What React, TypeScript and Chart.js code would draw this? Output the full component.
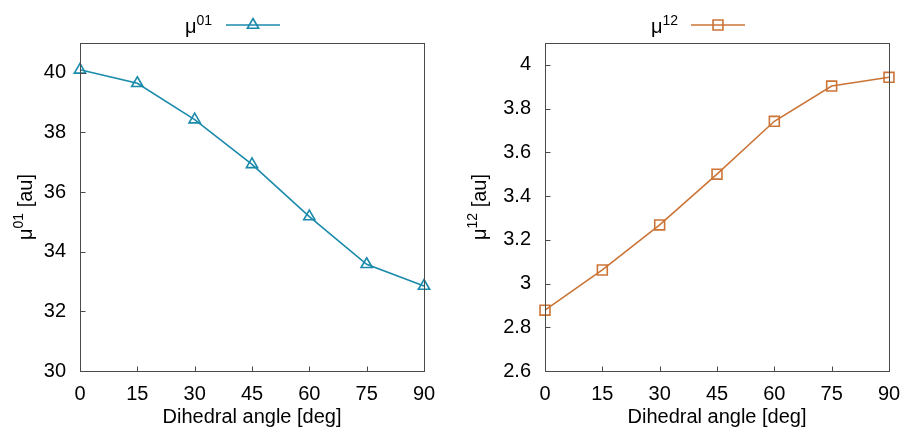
import React, { useEffect, useRef } from 'react';
import { Chart, registerables } from 'chart.js';
import { drawPoint } from 'chart.js/helpers';
Chart.register(...registerables);

const angles = [0, 15, 30, 45, 60, 75, 90];
const mu01 = [40.1, 39.65, 38.43, 36.93, 35.18, 33.58, 32.85];
const mu12 = [2.878, 3.062, 3.268, 3.5, 3.742, 3.903, 3.943];
const xTicks = [0, 15, 30, 45, 60, 75, 90];
const yTicksLeft = [30, 32, 34, 36, 38, 40];
const yTicksRight = [2.6, 2.8, 3.0, 3.2, 3.4, 3.6, 3.8, 4.0];
const xTitle = 'Dihedral angle [deg]';

const FONT = '"Liberation Sans", Arial, sans-serif';

type Cfg = {
  data: number[];
  color: string;
  pointStyle: 'triangle' | 'rect';
  radius: number;
  yMin: number;
  yMax: number;
  yTicks: number[];
  width: number;
  axisW: number;
  rightPad: number;
  sup: string;
  yTitleX: number;
  legendRight: number;
  lineX0: number;
  lineX1: number;
};

function fmt(v: number) {
  return String(Number(v.toFixed(1)));
}

function makeDecor(cfg: Cfg) {
  return {
    id: 'decor',
    afterDraw(chart: any) {
      const ctx = chart.ctx as CanvasRenderingContext2D;
      const a = chart.chartArea;
      const xs = chart.scales.x;
      const ys = chart.scales.y;
      ctx.save();
      // frame
      ctx.strokeStyle = '#4a4a4a';
      ctx.lineWidth = 1;
      const L = Math.round(a.left) + 0.5;
      const R = Math.round(a.right) + 0.5;
      const T = Math.round(a.top) + 0.5;
      const B = Math.round(a.bottom) + 0.5;
      ctx.strokeRect(L, T, R - L, B - T);
      ctx.beginPath();
      xs.ticks.forEach((t: any) => {
        const px = Math.round(xs.getPixelForValue(t.value)) + 0.5;
        ctx.moveTo(px, B);
        ctx.lineTo(px, B - 5);
      });
      ys.ticks.forEach((t: any) => {
        const py = Math.round(ys.getPixelForValue(t.value)) + 0.5;
        ctx.moveTo(L, py);
        ctx.lineTo(L + 5, py);
      });
      ctx.stroke();

      // x title
      ctx.fillStyle = '#000';
      ctx.font = `20px ${FONT}`;
      ctx.textAlign = 'center';
      ctx.textBaseline = 'alphabetic';
      ctx.fillText(xTitle, (a.left + a.right) / 2, 423);

      // y title rotated with superscript
      const big = `20px ${FONT}`;
      const small = `14px ${FONT}`;
      ctx.font = big;
      const w1 = ctx.measureText('\u03bc').width;
      const w3 = ctx.measureText(' [au]').width;
      ctx.font = small;
      const w2 = ctx.measureText(cfg.sup).width;
      const total = w1 + w2 + w3;
      ctx.save();
      ctx.translate(cfg.yTitleX, (a.top + a.bottom) / 2);
      ctx.rotate(-Math.PI / 2);
      ctx.textAlign = 'left';
      let x = -total / 2;
      ctx.font = big;
      ctx.fillText('\u03bc', x, 0);
      x += w1;
      ctx.font = small;
      ctx.fillText(cfg.sup, x, -9);
      x += w2;
      ctx.font = big;
      ctx.fillText(' [au]', x, 0);
      ctx.restore();

      // legend
      ctx.textAlign = 'left';
      ctx.font = small;
      const sw = ctx.measureText(cfg.sup).width;
      ctx.fillText(cfg.sup, cfg.legendRight - sw, 25);
      ctx.font = big;
      const mw = ctx.measureText('\u03bc').width;
      ctx.fillText('\u03bc', cfg.legendRight - sw - mw, 33);
      ctx.strokeStyle = cfg.color;
      ctx.lineWidth = 1.6;
      ctx.beginPath();
      ctx.moveTo(cfg.lineX0, 25);
      ctx.lineTo(cfg.lineX1, 25);
      ctx.stroke();
      ctx.fillStyle = 'rgba(0,0,0,0)';
      drawPoint(
        ctx,
        { pointStyle: cfg.pointStyle, radius: cfg.radius, rotation: 0, borderWidth: 1.6 } as any,
        (cfg.lineX0 + cfg.lineX1) / 2,
        25
      );
      ctx.restore();
    },
  };
}

function buildChart(canvas: HTMLCanvasElement, cfg: Cfg) {
  return new Chart(canvas, {
    type: 'line',
    data: {
      datasets: [
        {
          data: angles.map((x, i) => ({ x, y: cfg.data[i] })),
          borderColor: cfg.color,
          backgroundColor: 'rgba(0,0,0,0)',
          borderWidth: 1.6,
          pointStyle: cfg.pointStyle,
          pointRadius: cfg.radius,
          pointBorderWidth: 1.6,
          pointBorderColor: cfg.color,
          pointBackgroundColor: 'rgba(0,0,0,0)',
          tension: 0,
          clip: false as any,
        },
      ],
    },
    options: {
      animation: false,
      responsive: false,
      maintainAspectRatio: false,
      layout: { padding: { left: 0, right: cfg.rightPad, top: 43, bottom: 0 } },
      plugins: { legend: { display: false }, tooltip: { enabled: false } },
      scales: {
        x: {
          type: 'linear',
          min: 0,
          max: 90,
          afterBuildTicks: (s: any) => {
            s.ticks = xTicks.map((v) => ({ value: v }));
          },
          afterFit: (s: any) => {
            s.height = 56;
            s.paddingLeft = 0;
            s.paddingRight = 0;
          },
          grid: { display: false, drawTicks: false },
          border: { display: false },
          ticks: {
            color: '#000',
            padding: 11,
            maxRotation: 0,
            autoSkip: false,
            font: { family: FONT, size: 20 },
          },
        },
        y: {
          type: 'linear',
          min: cfg.yMin,
          max: cfg.yMax,
          afterBuildTicks: (s: any) => {
            s.ticks = cfg.yTicks.map((v) => ({ value: v }));
          },
          afterFit: (s: any) => {
            s.width = cfg.axisW;
            s.paddingTop = 0;
            s.paddingBottom = 0;
          },
          grid: { display: false, drawTicks: false },
          border: { display: false },
          ticks: {
            color: '#000',
            padding: 14,
            autoSkip: false,
            font: { family: FONT, size: 20 },
            callback: (v: any) => fmt(Number(v)),
          },
        },
      },
    },
    plugins: [makeDecor(cfg)],
  });
}

const leftCfg: Cfg = {
  data: mu01,
  color: '#1a8aab',
  pointStyle: 'triangle',
  radius: 6.5,
  yMin: 30,
  yMax: 41,
  yTicks: yTicksLeft,
  width: 450,
  axisW: 80,
  rightPad: 26,
  sup: '01',
  yTitleX: 32,
  legendRight: 212,
  lineX0: 226,
  lineX1: 280,
};

const rightCfg: Cfg = {
  data: mu12,
  color: '#cb7436',
  pointStyle: 'rect',
  radius: 7,
  yMin: 2.6,
  yMax: 4.1,
  yTicks: yTicksRight,
  width: 451,
  axisW: 95,
  rightPad: 12,
  sup: '12',
  yTitleX: 36,
  legendRight: 228,
  lineX0: 241,
  lineX1: 295,
};

export default function App() {
  const lRef = useRef<HTMLCanvasElement>(null);
  const rRef = useRef<HTMLCanvasElement>(null);
  useEffect(() => {
    const c1 = buildChart(lRef.current!, leftCfg);
    const c2 = buildChart(rRef.current!, rightCfg);
    return () => {
      c1.destroy();
      c2.destroy();
    };
  }, []);
  return (
    <div style={{ position: 'fixed', left: 0, top: 0, width: 901, height: 427, background: '#fff', overflow: 'hidden' }}>
      <canvas ref={lRef} width={450} height={427} style={{ position: 'absolute', left: 0, top: 0, width: 450, height: 427 }} />
      <canvas ref={rRef} width={451} height={427} style={{ position: 'absolute', left: 450, top: 0, width: 451, height: 427 }} />
    </div>
  );
}
